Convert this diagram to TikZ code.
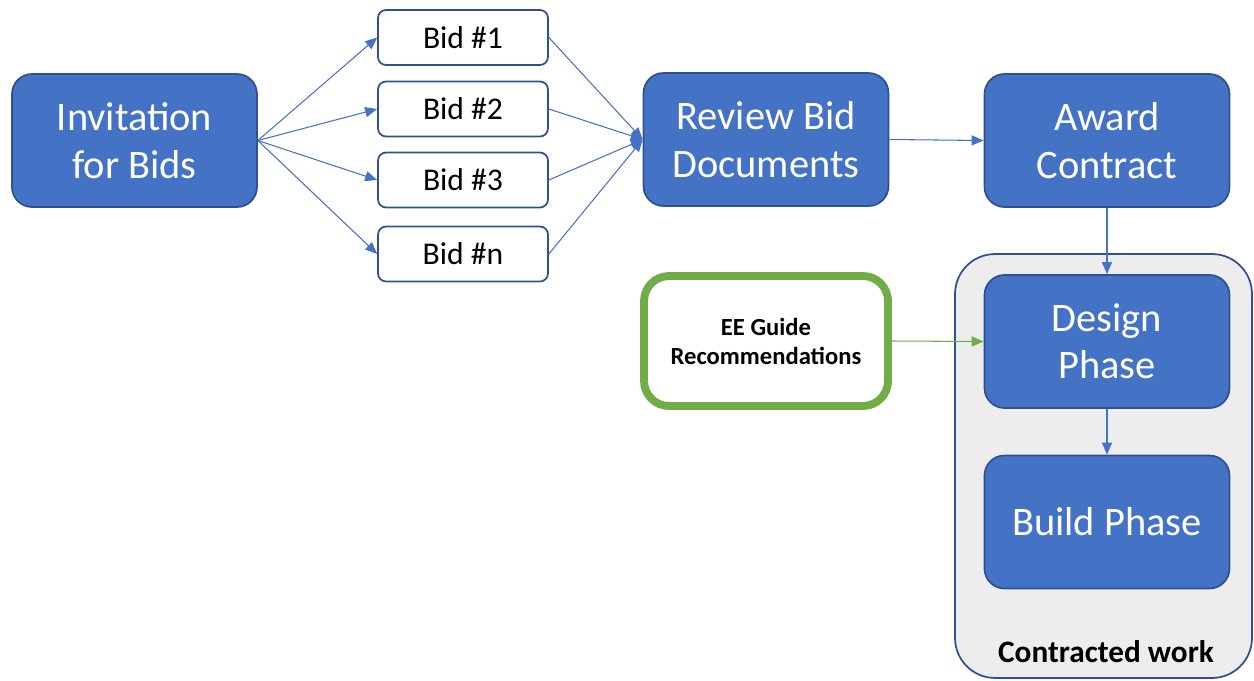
\documentclass[tikz,border=0pt]{standalone}
\usepackage{fontspec}
\setmainfont{Carlito}
\usetikzlibrary{arrows.meta}
\definecolor{boxblue}{HTML}{4472C4}
\definecolor{edgeblue}{HTML}{2F528F}
\definecolor{guidegreen}{HTML}{70AD47}
\definecolor{workgray}{HTML}{EDEDED}
\tikzset{
  phase/.style={draw=edgeblue,line width=1pt,fill=boxblue,rounded corners=0.4cm,
    minimum width=4.9cm,minimum height=2.66cm,text=white,align=center,
    font=\fontsize{23}{27}\selectfont},
  bid/.style={draw=edgeblue,line width=1pt,fill=white,rounded corners=0.16cm,
    minimum width=3.4cm,minimum height=1.1cm,font=\fontsize{18}{21}\selectfont},
  guide/.style={draw=guidegreen,line width=4.5pt,fill=white,rounded corners=0.5cm,
    minimum width=4.88cm,minimum height=2.6cm,align=center,
    font=\fontsize{14}{16.5}\selectfont\bfseries},
  work/.style={draw=edgeblue,line width=1pt,fill=workgray,rounded corners=0.8cm,
    minimum width=5.94cm,minimum height=8.48cm},
  flow/.style={draw=boxblue,line width=0.6pt,-{Triangle[length=0.24cm,width=0.2cm]}},
}

\begin{document}
\begin{tikzpicture}[x=0.02cm,y=-0.02cm]
\useasboundingbox (0,0) rectangle (1254,680);
\node[work] (work) at (1103.5,466) {};
\node[font=\fontsize{17.8}{21}\selectfont\bfseries] (worklbl) at (1106,652) {Contracted work};
\node[phase] (invite) at (134.5,140.5) {Invitation\\for Bids};
\node[bid] (bid1) at (463,37.5) {Bid \#1};
\node[bid] (bid2) at (463,109) {Bid \#2};
\node[bid] (bid3) at (463,180) {Bid \#3};
\node[bid] (bidn) at (463,254) {Bid \#n};
\node[phase] (review) at (766,139.5) {Review Bid\\Documents};
\node[phase] (award) at (1107,140.5) {Award\\Contract};
\node[phase] (design) at (1107,341.5) {Design\\Phase};
\node[phase] (build) at (1107,522) {Build Phase};
\node[guide] (guide) at (766,341) {EE Guide\\Recommendations};
% bids out and back in
\draw[flow] (invite.east)--(bid1.west);
\draw[flow] (invite.east)--(bid2.west);
\draw[flow] (invite.east)--(bid3.west);
\draw[flow] (invite.east)--(bidn.west);
\draw[flow] (bid1.east)--(review.west);
\draw[flow] (bid2.east)--(review.west);
\draw[flow] (bid3.east)--(review.west);
\draw[flow] (bidn.east)--(review.west);
\draw[flow] (review.east)--(award.west);
\draw[flow] (award.south)--(design.north);
\draw[flow] (design.south)--(build.north);
\draw[flow,draw=guidegreen] (guide.east)--(design.west);
\end{tikzpicture}
\end{document}
